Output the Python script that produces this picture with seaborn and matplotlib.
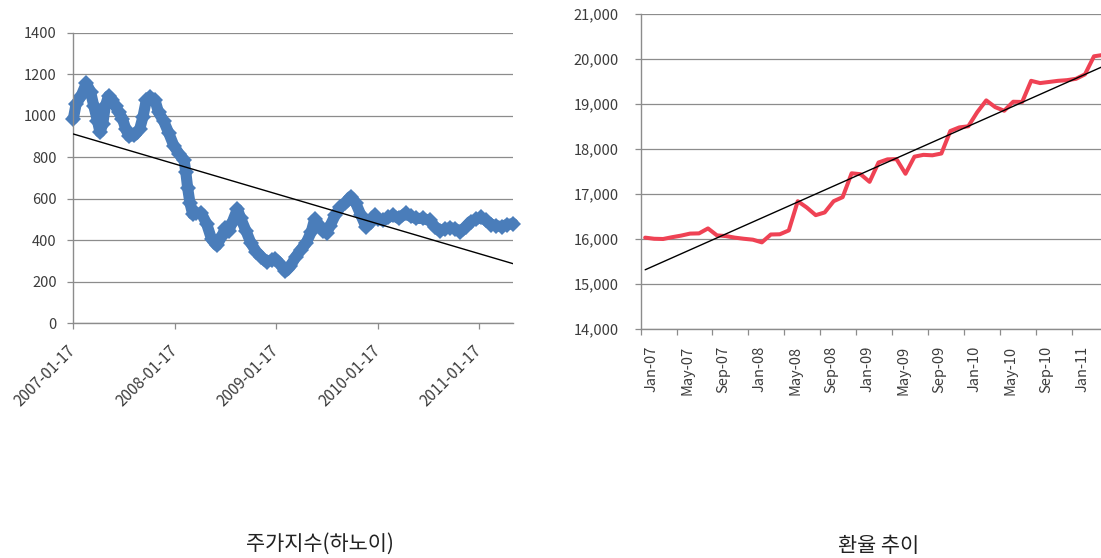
import numpy as np
import pandas as pd
import matplotlib
matplotlib.use("Agg")
import matplotlib.pyplot as plt
import matplotlib.dates as mdates
from matplotlib.ticker import FuncFormatter
from matplotlib.transforms import ScaledTranslation
import seaborn as sns

# ---------------------------------------------------------------- data
# Stock index (Hanoi), sampled roughly twice a month
index_dates = [
    "2007-01-17", "2007-01-27", "2007-02-14", "2007-03-05", "2007-03-20", "2007-04-01",
    "2007-04-14", "2007-04-23", "2007-05-03", "2007-05-12", "2007-05-24", "2007-06-06",
    "2007-06-18", "2007-06-30", "2007-07-13", "2007-07-25", "2007-08-06", "2007-08-25",
    "2007-09-13", "2007-09-25", "2007-10-07", "2007-10-20", "2007-11-07", "2007-11-20",
    "2007-12-08", "2007-12-27", "2008-01-14", "2008-02-02", "2008-02-20", "2008-02-26",
    "2008-03-04", "2008-03-12", "2008-03-22", "2008-04-03", "2008-04-22", "2008-05-11",
    "2008-05-29", "2008-06-17", "2008-07-05", "2008-07-18", "2008-07-30", "2008-08-11",
    "2008-08-30", "2008-09-11", "2008-09-30", "2008-10-18", "2008-11-06", "2008-11-24",
    "2008-12-13", "2008-12-31", "2009-01-13", "2009-01-31", "2009-02-19", "2009-03-09",
    "2009-03-28", "2009-04-16", "2009-05-04", "2009-05-23", "2009-06-04", "2009-06-16",
    "2009-07-05", "2009-07-17", "2009-07-30", "2009-08-17", "2009-09-05", "2009-09-23",
    "2009-10-12", "2009-10-30", "2009-11-18", "2009-12-06", "2009-12-25", "2010-01-06",
    "2010-01-19", "2010-02-06", "2010-02-25", "2010-03-15", "2010-04-03", "2010-04-28",
    "2010-05-16", "2010-06-04", "2010-06-28", "2010-07-23", "2010-08-11", "2010-08-29",
    "2010-09-17", "2010-10-05", "2010-10-24", "2010-11-11", "2010-11-30", "2010-12-18",
    "2011-01-06", "2011-01-24", "2011-02-12", "2011-03-03", "2011-03-21", "2011-04-09",
    "2011-04-27", "2011-05-20",
]
index_values = [
    985, 1055, 1095, 1155, 1115, 1045,
    975, 920, 960, 1045, 1095, 1075,
    1045, 1015, 985, 935, 900, 905,
    935, 995, 1075, 1090, 1075, 1015,
    975, 915, 855, 815, 785, 730,
    650, 580, 525, 530, 530, 480,
    405, 375, 420, 460, 445, 485,
    550, 505, 445, 385, 345, 320,
    295, 305, 310, 285, 250, 275,
    320, 355, 385, 440, 500, 480,
    445, 435, 470, 520, 560, 580,
    610, 580, 520, 465, 490, 520,
    500, 495, 510, 520, 505, 530,
    515, 505, 505, 495, 465, 445,
    455, 460, 455, 440, 465, 490,
    500, 510, 495, 475, 470, 465,
    475, 480,
]
index_ticks = ["2007-01-17", "2008-01-17", "2009-01-17", "2010-01-17", "2011-01-17"]
index_start, index_end = "2007-01-17", "2011-05-20"

# Monthly exchange rate (VND per USD), Jan-07 onwards
fx_values = [
    16030, 16005, 16000, 16040, 16075, 16120, 16125, 16235, 16080, 16065,
    16030, 16005, 15985, 15925, 16100, 16105, 16190, 16840, 16700, 16530,
    16590, 16840, 16930, 17460, 17440, 17270, 17700, 17770, 17775, 17450,
    17830, 17870, 17860, 17900, 18400, 18480, 18505, 18820, 19080, 18930,
    18850, 19050, 19045, 19515, 19465, 19490, 19515, 19530, 19560, 19660,
    20060, 20090,
]
fx_tick_labels = ["Jan-07", "May-07", "Sep-07", "Jan-08", "May-08", "Sep-08", "Jan-09",
                  "May-09", "Sep-09", "Jan-10", "May-10", "Sep-10", "Jan-11"]
fx_months_on_axis = 53

left_title = "주가지수(하노이)"
right_title = "환율 추이"

# ---------------------------------------------------------------- style
sns.set_theme(style="white")
plt.rcParams["font.family"] = ["Noto Sans CJK KR", "DejaVu Sans"]

GRID = "#8c8c8c"
TEXT = "#3c3c3c"
BLUE = "#4a7dba"
RED = "#ef4254"

fig = plt.figure(figsize=(11.01, 5.58), dpi=100)


def style_axes(ax):
    for side in ("top", "right"):
        ax.spines[side].set_visible(False)
    for side in ("left", "bottom"):
        ax.spines[side].set_color(GRID)
        ax.spines[side].set_linewidth(1.0)
    ax.yaxis.grid(True, color=GRID, linewidth=0.9)
    ax.xaxis.grid(False)
    ax.set_axisbelow(True)
    ax.tick_params(which="major", color=GRID, labelcolor=TEXT, width=0.9,
                   length=4, direction="out", bottom=True, left=True)
    ax.set_xlabel("")
    ax.set_ylabel("")


# ---------------------------------------------------------------- left: stock index
ax1 = fig.add_axes([0.0666, 0.4206, 0.3994, 0.5211])
stock = pd.DataFrame({
    "x": mdates.date2num(pd.to_datetime(index_dates)),
    "v": index_values,
})
sns.lineplot(data=stock, x="x", y="v", ax=ax1, color=BLUE, linewidth=8,
             marker="D", markersize=8, markeredgewidth=0,
             solid_joinstyle="round", solid_capstyle="round", zorder=2)
sns.regplot(data=stock, x="x", y="v", ax=ax1, scatter=False, ci=None, truncate=True,
            line_kws=dict(color="black", linewidth=1.0, zorder=3))
ax1.set_xlim(mdates.date2num(pd.Timestamp(index_start)),
             mdates.date2num(pd.Timestamp(index_end)))
ax1.set_ylim(0, 1400)
ax1.set_yticks(np.arange(0, 1401, 200))
ax1.set_xticks(mdates.date2num(pd.to_datetime(index_ticks)))
style_axes(ax1)
ax1.set_xticklabels(index_ticks, rotation=45, ha="right", va="center",
                    rotation_mode="anchor", fontsize=11)
ax1.tick_params(axis="x", pad=14)
ax1.tick_params(axis="y", labelsize=10.5, pad=8)
for line in ax1.lines[:1]:
    line.set_clip_on(False)

# ---------------------------------------------------------------- right: exchange rate
ax2 = fig.add_axes([0.5819, 0.4104, 0.4321, 0.5645])
month_pos = np.arange(len(fx_values)) + 0.5
fx = pd.DataFrame({"m": month_pos, "rate": fx_values})
sns.lineplot(data=fx, x="m", y="rate", ax=ax2, color=RED, linewidth=2.9,
             solid_joinstyle="round", zorder=2)
sns.regplot(data=fx, x="m", y="rate", ax=ax2, scatter=False, ci=None, truncate=True,
            line_kws=dict(color="black", linewidth=1.0, zorder=3))
ax2.set_xlim(0, fx_months_on_axis)
ax2.set_ylim(14000, 21000)
ax2.set_yticks(np.arange(14000, 21001, 1000))
ax2.yaxis.set_major_formatter(FuncFormatter(lambda v, p: f"{v:,.0f}"))
ax2.set_xticks(np.arange(0, 4 * len(fx_tick_labels), 4))
style_axes(ax2)
ax2.set_xticklabels(fx_tick_labels, rotation=90, ha="center", va="top", fontsize=10.5)
ax2.tick_params(axis="x", pad=8)
ax2.tick_params(axis="y", labelsize=10.5, pad=12)
shift = ScaledTranslation(0.11, 0, fig.dpi_scale_trans)
for lab in ax2.get_xticklabels():
    lab.set_transform(lab.get_transform() + shift)

# ---------------------------------------------------------------- captions
fig.text(0.2906, 0.025, left_title, ha="center", va="center", fontsize=15, color="#222222")
fig.text(0.7984, 0.022, right_title, ha="center", va="center", fontsize=15, color="#222222")

fig.savefig("out.png", dpi=100, facecolor="white")
